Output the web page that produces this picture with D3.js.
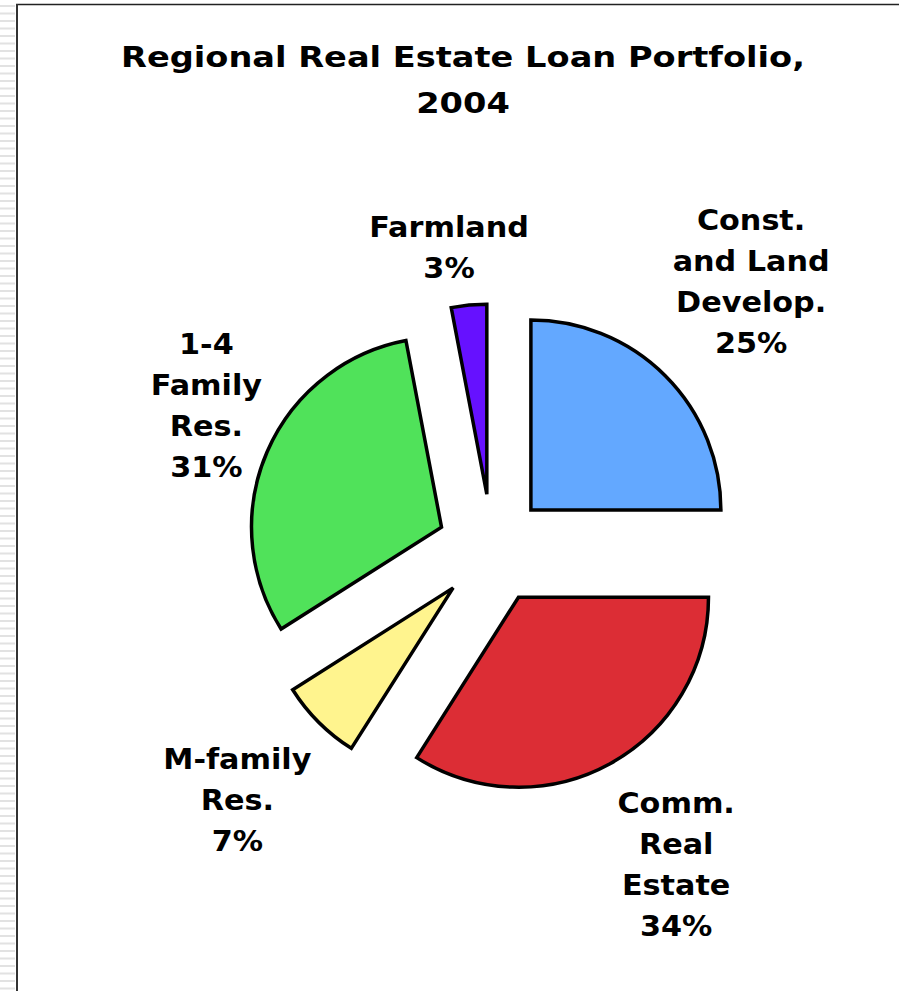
<!DOCTYPE html>
<html>
<head>
<meta charset="utf-8">
<script src="https://cdn.jsdelivr.net/npm/d3@7.9.0/dist/d3.min.js"></script>
<style>
  html, body { margin: 0; padding: 0; background: #fff; }
  svg { display: block; }
  text { font-family: "DejaVu Sans", Verdana, sans-serif; font-weight: bold; fill: #000; }
</style>
</head>
<body>
<svg id="chart" width="899" height="991"></svg>
<script>
const categories = ["Const. and Land Develop.", "Comm. Real Estate", "M-family Res.", "1-4 Family Res.", "Farmland"];
const labelLines = [
  ["Const.", "and Land", "Develop."],
  ["Comm.", "Real", "Estate"],
  ["M-family", "Res."],
  ["1-4", "Family", "Res."],
  ["Farmland"]
];
const values = [25, 34, 7, 31, 3];
const sliceColors = ["#63a8ff", "#dc2d35", "#fff48e", "#50e25a", "#6611ff"];
const titleLines = ["Regional Real Estate Loan Portfolio,", "2004"];

// layout (label placement, polar around the pie center)
const labelRadius = [373, 365, 357, 320, 305];
const labelAngleShift = [-1, -1.5, 0.5, 3.4, -2.7];

const W = 899, H = 991;
const cx = 492, cy = 549, radius = 190, explode = 55;
const lineH = 41, capH = 21;

const svg = d3.select("#chart");

// striped margin + frame
const stripes = d3.range(5, H, 7.5);
svg.append("g")
  .selectAll("rect")
  .data(stripes)
  .join("rect")
  .attr("x", 0)
  .attr("y", (d) => d)
  .attr("width", 15)
  .attr("height", 2)
  .attr("fill", "#e2e2e2");

svg.append("line")
  .attr("x1", 16).attr("x2", W)
  .attr("y1", 4.5).attr("y2", 4.5)
  .attr("stroke", "#222").attr("stroke-width", 1.5);
svg.append("line")
  .attr("x1", 17).attr("x2", 17)
  .attr("y1", 4).attr("y2", H)
  .attr("stroke", "#333").attr("stroke-width", 2);

// title (stretched a bit to mimic the wide Verdana-style glyphs)
svg.append("g")
  .attr("transform", "translate(463,0) scale(1.18,1)")
  .append("text")
  .attr("text-anchor", "middle")
  .attr("font-size", 28.5)
  .selectAll("tspan")
  .data(titleLines)
  .join("tspan")
  .attr("x", 0)
  .attr("y", (_, i) => 67 + i * 46)
  .text((d) => d);

const data = categories.map((c, i) => ({
  label: c,
  lines: labelLines[i],
  value: values[i],
  color: sliceColors[i],
  idx: i
}));

const pie = d3.pie().sort(null).value((d) => d.value);
const arc = d3.arc().innerRadius(0).outerRadius(radius);
const arcs = pie(data);

const pieG = svg.append("g").attr("transform", `translate(${cx},${cy})`);

pieG.selectAll("path")
  .data(arcs)
  .join("path")
  .attr("d", arc)
  .attr("transform", (d) => {
    const mid = (d.startAngle + d.endAngle) / 2;
    return `translate(${Math.sin(mid) * explode},${-Math.cos(mid) * explode})`;
  })
  .attr("fill", (d) => d.data.color)
  .attr("stroke", "#000")
  .attr("stroke-width", 3.5)
  .attr("stroke-linejoin", "miter");

// labels
const labels = pieG.selectAll("g.label")
  .data(arcs)
  .join("g")
  .attr("class", "label")
  .attr("transform", (d) => {
    const i = d.data.idx;
    const mid = (d.startAngle + d.endAngle) / 2 + labelAngleShift[i] * Math.PI / 180;
    const r = labelRadius[i];
    return `translate(${Math.sin(mid) * r},${-Math.cos(mid) * r}) scale(1.08,1)`;
  });

labels.append("text")
  .attr("text-anchor", "middle")
  .attr("font-size", 28)
  .selectAll("tspan")
  .data((d) => {
    const pct = Math.round(d.value / d3.sum(values) * 100) + "%";
    const lines = d.data.lines.concat([pct]);
    return lines.map((t, j) => ({ t, j, n: lines.length }));
  })
  .join("tspan")
  .attr("x", 0)
  .attr("y", (d) => -(d.n - 1) * lineH / 2 + capH / 2 + d.j * lineH)
  .text((d) => d.t);
</script>
</body>
</html>
